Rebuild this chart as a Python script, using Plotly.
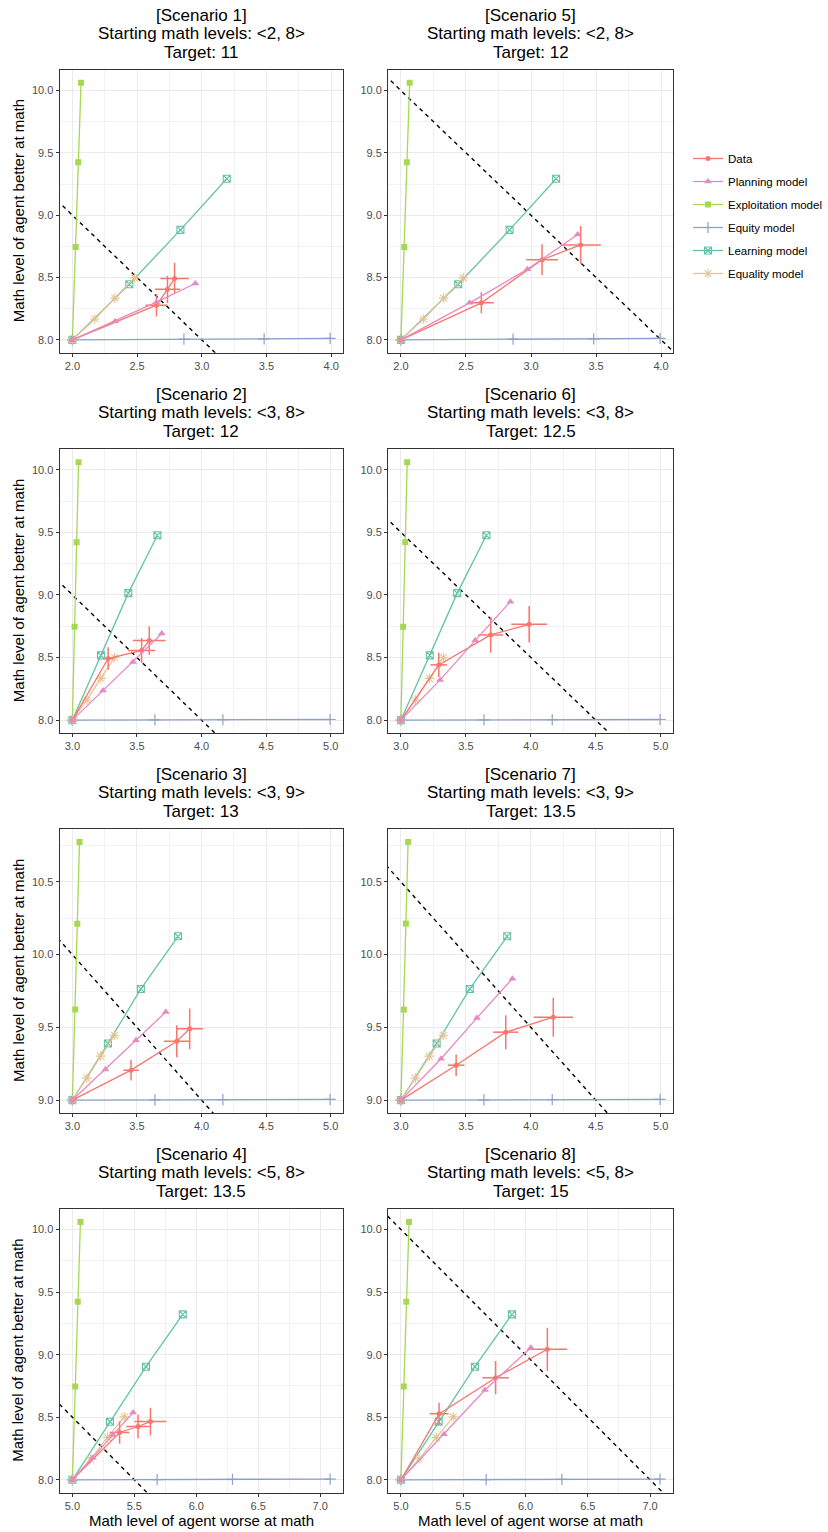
import plotly.graph_objects as go

# ---------------- data ----------------
scenarios = [1, 2, 3, 4, 5, 6, 7, 8]
targets = [11, 12, 13, 13.5, 12, 12.5, 13.5, 15]
start_levels = ["<2, 8>", "<3, 8>", "<3, 9>", "<5, 8>", "<2, 8>", "<3, 8>", "<3, 9>", "<5, 8>"]

# Data (human behaviour) with standard errors
data_x = [[2, 2.65, 2.735, 2.79], [3, 3.277, 3.536, 3.595], [3, 3.454, 3.808, 3.908], [5, 5.381, 5.53, 5.63],
          [2, 2.618, 3.085, 3.382], [3, 3.291, 3.691, 3.987], [3, 3.425, 3.807, 4.173], [5, 5.306, 5.76, 6.175]]
data_y = [[8, 8.278, 8.405, 8.493], [8, 8.492, 8.556, 8.636], [9, 9.206, 9.405, 9.49], [8, 8.378, 8.426, 8.465],
          [8, 8.297, 8.643, 8.762], [8, 8.441, 8.68, 8.765], [9, 9.24, 9.467, 9.57], [8, 8.527, 8.816, 9.043]]
data_ex = [[0, 0.085, 0.097, 0.11], [0, 0.04, 0.105, 0.127], [0, 0.06, 0.1, 0.105], [0, 0.08, 0.095, 0.128],
           [0, 0.096, 0.122, 0.154], [0, 0.064, 0.097, 0.138], [0, 0.064, 0.097, 0.152], [0, 0.076, 0.106, 0.16]]
data_ey = [[0, 0.09, 0.11, 0.125], [0, 0.09, 0.1, 0.113], [0, 0.071, 0.11, 0.14], [0, 0.09, 0.093, 0.11],
           [0, 0.084, 0.124, 0.151], [0, 0.097, 0.142, 0.146], [0, 0.074, 0.117, 0.134], [0, 0.089, 0.133, 0.173]]

planning_x = [[2, 2.33, 2.65, 2.95], [3, 3.238, 3.469, 3.692], [3, 3.256, 3.492, 3.723], [5, 5.165, 5.326, 5.49],
              [2, 2.528, 2.972, 3.359], [3, 3.302, 3.572, 3.843], [3, 3.309, 3.585, 3.858], [5, 5.346, 5.674, 6.043]]
planning_y = [[8, 8.15, 8.302, 8.452], [8, 8.237, 8.465, 8.691], [9, 9.211, 9.412, 9.606], [8, 8.177, 8.359, 8.537],
              [8, 8.297, 8.566, 8.845], [8, 8.321, 8.637, 8.946], [9, 9.284, 9.565, 9.835], [8, 8.365, 8.718, 9.056]]

exploitation_x = [[2, 2.025, 2.045, 2.067], [3, 3.017, 3.033, 3.048], [3, 3.022, 3.038, 3.055], [5, 5.023, 5.043, 5.065],
                  [2, 2.025, 2.045, 2.067], [3, 3.017, 3.033, 3.048], [3, 3.022, 3.038, 3.055], [5, 5.023, 5.043, 5.065]]
exploitation_y = [[8, 8.745, 9.424, 10.062], [8, 8.745, 9.421, 10.06], [9, 9.622, 10.213, 10.775], [8, 8.745, 9.423, 10.061],
                  [8, 8.745, 9.424, 10.062], [8, 8.745, 9.421, 10.06], [9, 9.622, 10.213, 10.775], [8, 8.745, 9.423, 10.061]]

equity_x = [[2, 2.862, 3.482, 3.992], [3, 3.639, 4.165, 4.995], [3, 3.639, 4.165, 4.995], [5, 5.684, 6.292, 7.08],
            [2, 2.862, 3.482, 3.992], [3, 3.639, 4.165, 4.995], [3, 3.639, 4.165, 4.995], [5, 5.684, 6.292, 7.08]]
equity_y = [[8, 8.006, 8.008, 8.012], [8, 8.002, 8.003, 8.005], [9, 9.002, 9.003, 9.005], [8, 8.002, 8.003, 8.006],
            [8, 8.006, 8.008, 8.012], [8, 8.002, 8.003, 8.005], [9, 9.002, 9.003, 9.005], [8, 8.002, 8.003, 8.006]]

learning_x = [[2, 2.44, 2.835, 3.193], [3, 3.222, 3.433, 3.658], [3, 3.275, 3.53, 3.818], [5, 5.303, 5.594, 5.891],
              [2, 2.44, 2.835, 3.193], [3, 3.222, 3.433, 3.658], [3, 3.275, 3.53, 3.818], [5, 5.303, 5.594, 5.891]]
learning_y = [[8, 8.446, 8.882, 9.293], [8, 8.517, 9.014, 9.476], [9, 9.389, 9.764, 10.126], [8, 8.464, 8.904, 9.322],
              [8, 8.446, 8.882, 9.293], [8, 8.517, 9.014, 9.476], [9, 9.389, 9.764, 10.126], [8, 8.464, 8.904, 9.322]]

equality_x = [[2, 2.174, 2.328, 2.479], [3, 3.112, 3.22, 3.327], [3, 3.112, 3.218, 3.326], [5, 5.146, 5.284, 5.42],
              [2, 2.174, 2.328, 2.479], [3, 3.112, 3.22, 3.327], [3, 3.112, 3.218, 3.326], [5, 5.146, 5.284, 5.42]]
equality_y = [[8, 8.167, 8.335, 8.497], [8, 8.161, 8.333, 8.5], [9, 9.151, 9.302, 9.446], [8, 8.166, 8.339, 8.503],
              [8, 8.167, 8.335, 8.497], [8, 8.161, 8.333, 8.5], [9, 9.151, 9.302, 9.446], [8, 8.166, 8.339, 8.503]]

legend_names = ["Data", "Planning model", "Exploitation model", "Equity model", "Learning model", "Equality model"]

# ---------------- style ----------------
W, H = 828, 1532
FONT = "Liberation Sans, Arial, Helvetica, sans-serif"
C_DATA = "#F8766D"
C_PLAN = "#E78AC3"
C_EXPL = "#A6D854"
C_EQUI = "#8DA0CB"
C_LEARN = "#66C2A5"
C_EQUAL = "#E5C494"

col_px = [(59.5, 343.0), (388.0, 673.0)]
row_px = [(70.0, 352.7), (449.3, 733.0), (829.0, 1113.0), (1209.0, 1492.7)]


def px_to_paper_x(p):
    return p / W


def px_to_paper_y(p):
    return 1 - p / H


def expand(vals):
    lo, hi = min(vals), max(vals)
    pad = (hi - lo) * 0.05
    return [lo - pad, hi + pad]


fig = go.Figure()
annotations = []
layout_axes = {}

for i, sc in enumerate(scenarios):
    col = 0 if i < 4 else 1
    row = i % 4
    n = i + 1
    xa = "x" if n == 1 else f"x{n}"
    ya = "y" if n == 1 else f"y{n}"
    xkey = "xaxis" if n == 1 else f"xaxis{n}"
    ykey = "yaxis" if n == 1 else f"yaxis{n}"

    allx = (data_x[i] + [a - b for a, b in zip(data_x[i], data_ex[i])] + [a + b for a, b in zip(data_x[i], data_ex[i])]
            + planning_x[i] + exploitation_x[i] + equity_x[i] + learning_x[i] + equality_x[i])
    ally = (data_y[i] + [a - b for a, b in zip(data_y[i], data_ey[i])] + [a + b for a, b in zip(data_y[i], data_ey[i])]
            + planning_y[i] + exploitation_y[i] + equity_y[i] + learning_y[i] + equality_y[i])
    xr = expand(allx)
    yr = expand(ally)

    show = (i == 0)

    # target line x + y = target
    fig.add_trace(go.Scatter(
        x=[xr[0] - 1, xr[1] + 1], y=[targets[i] - (xr[0] - 1), targets[i] - (xr[1] + 1)],
        mode="lines", line=dict(color="black", width=1.4, dash="4px,4px"),
        xaxis=xa, yaxis=ya, showlegend=False, hoverinfo="skip"))

    fig.add_trace(go.Scatter(
        x=exploitation_x[i], y=exploitation_y[i], mode="lines+markers", name=legend_names[2],
        legendgroup="g3", legendrank=3, showlegend=show,
        line=dict(color=C_EXPL, width=1.3), marker=dict(symbol="square", size=6, color=C_EXPL),
        xaxis=xa, yaxis=ya))
    fig.add_trace(go.Scatter(
        x=equity_x[i], y=equity_y[i], mode="lines+markers", name=legend_names[3],
        legendgroup="g4", legendrank=4, showlegend=show,
        line=dict(color=C_EQUI, width=1.3),
        marker=dict(symbol="cross-thin-open", size=8, color=C_EQUI, line=dict(color=C_EQUI, width=1.2)),
        xaxis=xa, yaxis=ya))
    fig.add_trace(go.Scatter(
        x=learning_x[i], y=learning_y[i], mode="lines+markers", name=legend_names[4],
        legendgroup="g5", legendrank=5, showlegend=show,
        line=dict(color=C_LEARN, width=1.3),
        marker=dict(symbol="square-x-open", size=7, color=C_LEARN, line=dict(color=C_LEARN, width=1.1)),
        xaxis=xa, yaxis=ya))
    fig.add_trace(go.Scatter(
        x=equality_x[i], y=equality_y[i], mode="lines+markers", name=legend_names[5],
        legendgroup="g6", legendrank=6, showlegend=show,
        line=dict(color=C_EQUAL, width=1.3),
        marker=dict(symbol="asterisk-open", size=8, color=C_EQUAL, line=dict(color=C_EQUAL, width=1.1)),
        xaxis=xa, yaxis=ya))
    fig.add_trace(go.Scatter(
        x=data_x[i], y=data_y[i], mode="lines+markers", name=legend_names[0],
        legendgroup="g1", legendrank=1, showlegend=show,
        line=dict(color=C_DATA, width=1.3), marker=dict(symbol="circle", size=5, color=C_DATA),
        error_x=dict(type="data", array=data_ex[i], color=C_DATA, thickness=1.5, width=0),
        error_y=dict(type="data", array=data_ey[i], color=C_DATA, thickness=1.5, width=0),
        xaxis=xa, yaxis=ya))
    fig.add_trace(go.Scatter(
        x=planning_x[i], y=planning_y[i], mode="lines+markers", name=legend_names[1],
        legendgroup="g2", legendrank=2, showlegend=show,
        line=dict(color=C_PLAN, width=1.3), marker=dict(symbol="triangle-up", size=7, color=C_PLAN),
        xaxis=xa, yaxis=ya))

    x0, x1 = col_px[col]
    y0, y1 = row_px[row]
    common = dict(
        showline=True, mirror=True, linecolor="#333333", linewidth=1,
        ticks="outside", ticklen=3, tickcolor="#333333", tickwidth=1,
        tickfont=dict(family=FONT, size=11, color="#4D4D4D"),
        showgrid=True, gridcolor="#EBEBEB", gridwidth=1.1,
        dtick=0.5, tick0=0, tickformat=".1f", zeroline=False,
        minor=dict(dtick=0.25, tick0=0, showgrid=True, gridcolor="#F2F2F2", gridwidth=0.6, ticks=""),
    )
    layout_axes[xkey] = dict(common, domain=[px_to_paper_x(x0), px_to_paper_x(x1)], range=xr,
                             anchor=ya)
    layout_axes[ykey] = dict(common, domain=[px_to_paper_y(y1), px_to_paper_y(y0)], range=yr,
                             anchor=xa)

    cx = (x0 + x1) / 2
    lines = [f"[Scenario {sc}]", f"Starting math levels: {start_levels[i]}", f"Target: {targets[i]:g}"]
    offsets = [55, 36.5, 17.5]
    for t, o in zip(lines, offsets):
        annotations.append(dict(
            text=t, x=px_to_paper_x(cx), y=px_to_paper_y(y0 - o), xref="paper", yref="paper",
            xanchor="center", yanchor="middle", showarrow=False,
            font=dict(family=FONT, size=17, color="black")))

    if col == 0:
        annotations.append(dict(
            text="Math level of agent better at math", x=px_to_paper_x(18), y=px_to_paper_y((y0 + y1) / 2),
            xref="paper", yref="paper", xanchor="center", yanchor="middle", textangle=-90,
            showarrow=False, font=dict(family=FONT, size=15, color="black")))
    if row == 3:
        annotations.append(dict(
            text="Math level of agent worse at math", x=px_to_paper_x(cx), y=px_to_paper_y(1520),
            xref="paper", yref="paper", xanchor="center", yanchor="middle",
            showarrow=False, font=dict(family=FONT, size=15, color="black")))

fig.update_layout(
    width=W, height=H, margin=dict(l=0, r=0, t=0, b=0),
    paper_bgcolor="white", plot_bgcolor="white",
    font=dict(family=FONT),
    annotations=annotations,
    showlegend=True,
    legend=dict(x=px_to_paper_x(688), y=px_to_paper_y(144), xanchor="left", yanchor="top",
                font=dict(family=FONT, size=11.5, color="black"), tracegroupgap=4, itemwidth=30,
                bgcolor="rgba(0,0,0,0)", traceorder="grouped"),
    **layout_axes,
)

fig.write_html("out.html")
